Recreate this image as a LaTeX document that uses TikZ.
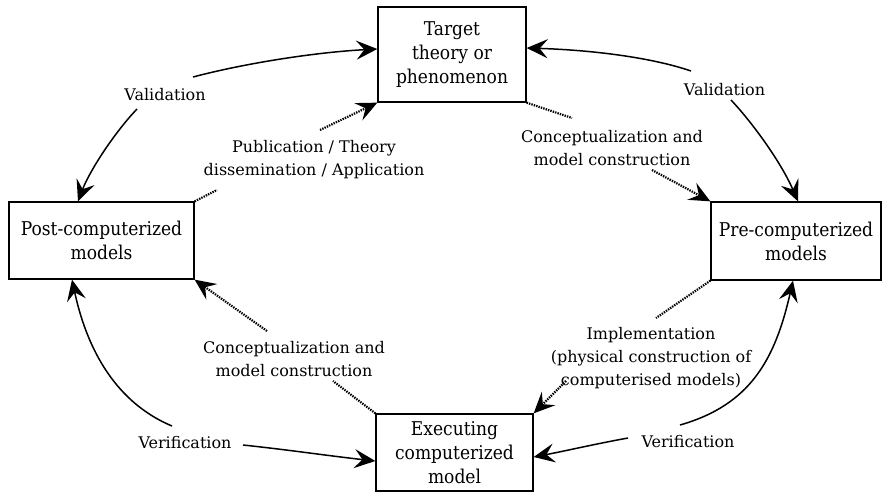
\documentclass[tikz,border=0pt]{standalone}
\usepackage{fontspec}
\setmainfont{DejaVu Serif}
\newfontfamily\boxfont{DejaVu Serif Condensed}
\usetikzlibrary{arrows.meta}
\begin{document}
\begin{tikzpicture}[x=1pt,y=-1pt,
  box/.style={draw, line width=1.3pt, inner sep=0pt, align=center, font=\boxfont\fontsize{19}{24}\selectfont},
  lbl/.style={inner sep=0pt, align=center, font=\fontsize{16}{23}\selectfont},
  tip/.style={-{Stealth[length=21pt,width=19pt,inset=8pt]}},
  solidarr/.style={line width=1.5pt, tip},
  dotline/.style={line width=2.2pt, dash pattern=on 1.4pt off 1.1pt},
  dotarr/.style={dotline, tip}
]
\useasboundingbox (0,0) rectangle (883,493);

% boxes
\node[box, minimum width=148pt, minimum height=95pt] (target) at (452,54.5) {Target\\theory or\\phenomenon};
\node[box, minimum width=185pt, minimum height=77pt] (post) at (101.5,240.5) {Post-computerized\\models};
\node[box, minimum width=170pt, minimum height=78pt] (pre) at (796,241) {Pre-computerized\\models};
\node[box, minimum width=157pt, minimum height=77pt] (exec) at (454.5,452.5) {Executing\\computerized\\model};

% labels
\node[lbl] (valL) at (165,95) {Validation};
\node[lbl] (valR) at (724.5,90) {Validation};
\node[lbl] (pub) at (314,160) {Publication / Theory\\dissemination / Application};
\node[lbl] (concTR) at (612,148) {Conceptualization and\\model construction};
\node[lbl] (concBL) at (294,359) {Conceptualization and\\model construction};
\node[lbl] (impl) at (651,358) {Implementation\\(physical construction of\\computerised models)};
\node[lbl] (verL) at (185,443) {Verification};
\node[lbl] (verR) at (688,442) {Verification};

% free ends
\coordinate (v1s) at (193,77);
\coordinate (v2s) at (137,109);
\coordinate (v3s) at (691,71);
\coordinate (v4s) at (731,100);
\coordinate (w1s) at (172,426);
\coordinate (w2s) at (243,445);
\coordinate (w3s) at (628,438);
\coordinate (w4s) at (680,425);
\coordinate (pa) at (217,190);
\coordinate (pb) at (320,130);
\coordinate (ca) at (572,118);
\coordinate (cb) at (652,170);
\coordinate (ia) at (656,318);
\coordinate (ib) at (566,381);
\coordinate (da) at (333,381);
\coordinate (db) at (267,331);

% validation
\draw[solidarr] (v1s) .. controls (250,62) and (320,52) .. ([yshift=5.5pt]target.west);
\draw[solidarr] (v2s) .. controls (115,132) and (90,170) .. ([xshift=-23.5pt]post.north);
\draw[solidarr] (v3s) .. controls (650,57) and (590,50) .. ([yshift=6.5pt]target.east);
\draw[solidarr] (v4s) .. controls (750,120) and (780,160) .. ([xshift=2pt]pre.north);

% verification
\draw[solidarr] (w1s) .. controls (110,400) and (85,340) .. ([xshift=-29.5pt]post.south);
\draw[solidarr] (w2s) .. controls (290,450) and (330,456) .. ([yshift=-8.5pt]exec.west);
\draw[solidarr] (w3s) .. controls (595,444) and (565,451) .. ([yshift=-4.5pt]exec.east);
\draw[solidarr] (w4s) .. controls (750,405) and (775,360) .. ([xshift=-3pt]pre.south);

% dotted
\draw[dotline] (post.north east) -- (pa);
\draw[dotarr] (pb) -- (target.south west);
\draw[dotline] (target.south east) -- (ca);
\draw[dotarr] (cb) -- (pre.north west);
\draw[dotline] (pre.south west) -- (ia);
\draw[dotarr] (ib) -- (exec.north east);
\draw[dotline] (exec.north west) -- (da);
\draw[dotarr] (db) -- (post.south east);
\end{tikzpicture}
\end{document}
